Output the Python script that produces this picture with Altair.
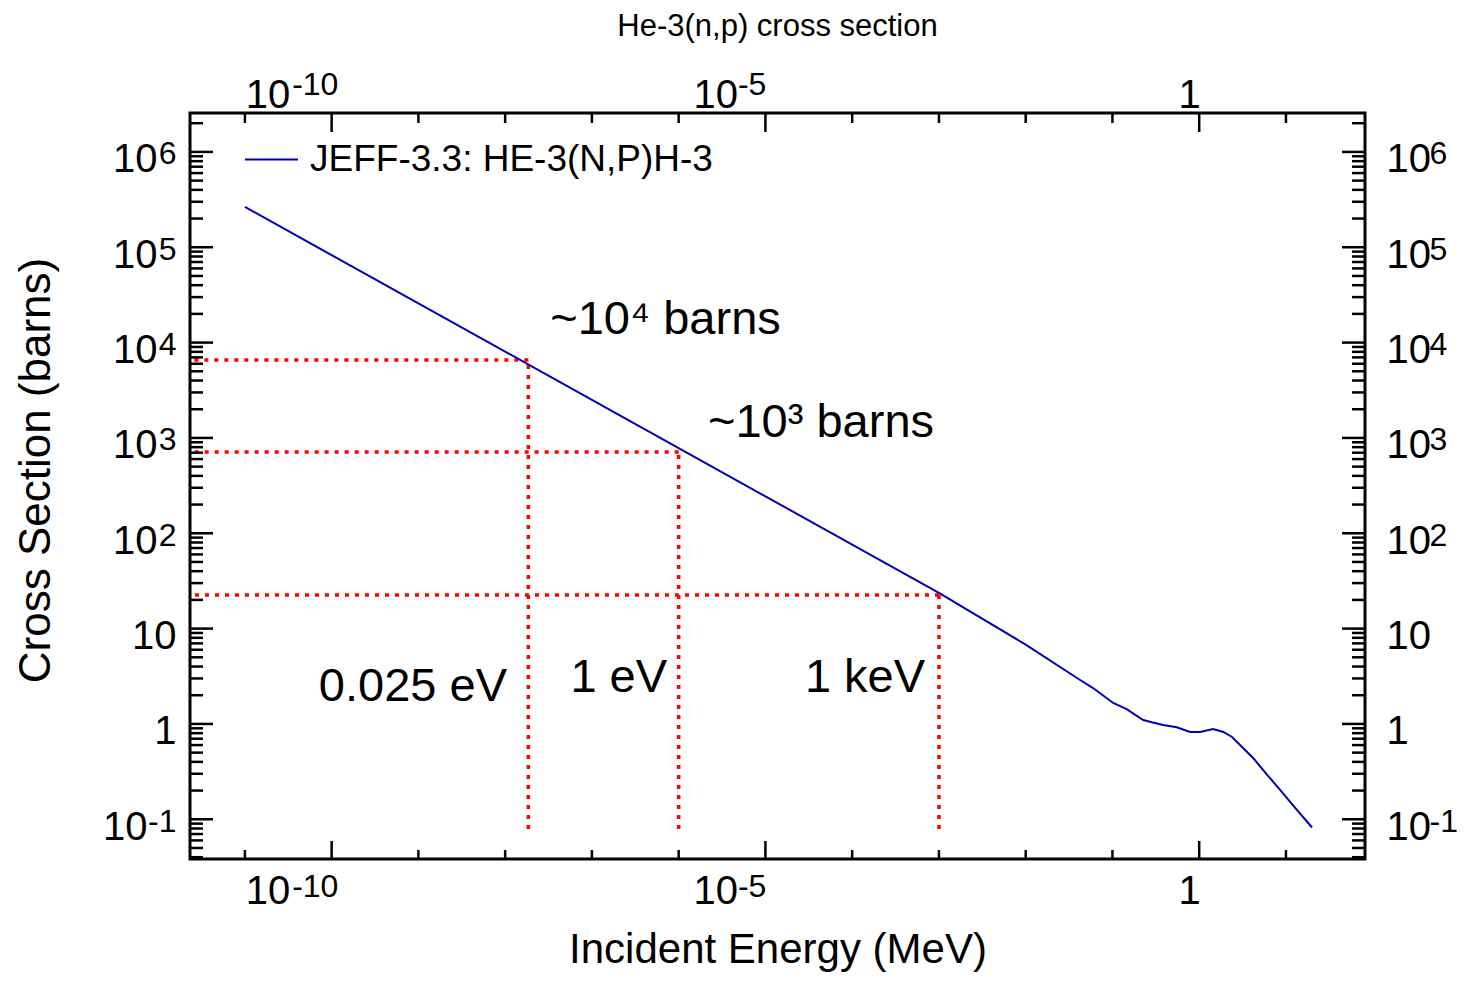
import math
import altair as alt
import pandas as pd

# ---------------- data ----------------
series_name = "JEFF-3.3: HE-3(N,P)H-3"
energy_mev = [1e-11, 1e-10, 1e-9, 1e-8, 1e-7, 1e-6, 1e-5, 1e-4, 1e-3, 1e-2,
              0.0424, 0.0598, 0.102, 0.146, 0.226, 0.284, 0.383, 0.552, 0.785, 1.02,
              1.446, 1.90, 2.39, 4.18, 6.01, 8.56, 12.2, 20.0]
xs_barns = [2.65e5, 8.26e4, 2.58e4, 8.04e3, 2.51e3, 782, 244, 76, 23.7, 6.8,
            2.89, 2.38, 1.66, 1.43, 1.10, 1.04, 0.975, 0.923, 0.823, 0.823,
            0.885, 0.824, 0.73, 0.44, 0.296, 0.203, 0.138, 0.082]

# red dotted guide lines (energy, cross section) and their lower end
mark_energy = [1.85e-8, 1.0e-6, 1.0e-3]
mark_xs = [6577, 713, 22.5]
mark_floor = 0.079

# annotations
ann_text = ["~10\u2074 barns", "~10\u00b3 barns"]
ann_e = [3.31e-8, 2.18e-6]
ann_s = [1.73e4, 1436]
lab_text = ["0.025 eV", "1 eV", "1 keV"]
lab_e = [1.05e-8, 7.36e-7, 6.93e-4]
lab_s = [2.44, 3.03, 3.03]

# axes
x_domain = [2.33e-12, 81.5]
y_domain = [0.0383, 2.56e6]
x_decades = [1e-11, 1e-10, 1e-9, 1e-8, 1e-7, 1e-6, 1e-5, 1e-4, 1e-3, 1e-2, 1e-1, 1, 10]
x_label_values = [1e-10, 1e-5, 1]
x_label_base = ["10", "10", "1"]
x_label_exp = ["-10", "-5", ""]
y_decades = [0.1, 1, 10, 100, 1e3, 1e4, 1e5, 1e6]
y_label_base = ["10", "1", "10", "10", "10", "10", "10", "10"]
y_label_exp = ["-1", "", "", "2", "3", "4", "5", "6"]
y_minor = [m * 10.0 ** n for n in range(-2, 7) for m in range(2, 10)
           if y_domain[0] <= m * 10.0 ** n <= y_domain[1]]
x_short = [v for v in x_decades if v not in x_label_values]

# ---------------- style ----------------
FONT = "Liberation Sans"
BLUE = "#0000b4"
W, H = 1175, 746
BASE_FS, EXP_FS = 40, 32


def label_expr(values, labels):
    s = ""
    for v, lab in zip(values, labels):
        e = round(math.log10(v))
        s += f"round(log(datum.value)/LN10) == {e} ? '{lab}' : "
    return s + "''"


def axis(orient, values, labels, fs, **kw):
    opts = dict(orient=orient, values=values, labelExpr=label_expr(values, labels),
                ticks=False, domain=False, grid=False, labelFont=FONT,
                labelFontSize=fs, labelColor="black", labelOverlap=False,
                labelFlush=False, labelBound=False, title=None)
    opts.update(kw)
    return alt.Axis(**opts)


def pick(values, labels, keep):
    pairs = [(v, l) for v, l, k in zip(values, labels, keep) if k]
    return [p[0] for p in pairs], [p[1] for p in pairs]


# x label groups
xb_v, xb_l = pick(x_label_values, x_label_base, [e != "" for e in x_label_exp])
x1_v, x1_l = pick(x_label_values, x_label_base, [e == "" for e in x_label_exp])
xe_v, xe_l = pick(x_label_values, x_label_exp, [e != "" for e in x_label_exp])
# y label groups
ye_v, ye_l = pick(y_decades, y_label_exp, [e != "" for e in y_label_exp])
ya_v, ya_l = pick(y_decades, y_label_base, [len(e) > 1 for e in y_label_exp])
yb_v, yb_l = pick(y_decades, y_label_base, [len(e) == 1 for e in y_label_exp])
yc_v, yc_l = pick(y_decades, y_label_base, [e == "" for e in y_label_exp])

x_base_off = {"condition": {"test": "datum.value < 1e-7", "value": -42}, "value": -28}
x_exp_off = {"condition": {"test": "datum.value < 1e-7", "value": -40}, "value": -28}

xs = alt.Scale(type="log", domain=x_domain, nice=False)
ys = alt.Scale(type="log", domain=y_domain, nice=False)

df_line = pd.DataFrame({"E": energy_mev, "S": xs_barns, "series": series_name})

line = alt.Chart(df_line).mark_line(strokeWidth=2).encode(
    x=alt.X("E:Q", scale=xs, axis=axis(
        "bottom", xb_v, xb_l, BASE_FS, labelPadding=12, labelAlign="right",
        labelBaseline="top", labelOffset=x_base_off,
        title="Incident Energy (MeV)", titleFont=FONT, titleFontSize=42,
        titleFontWeight="normal", titleColor="black", titlePadding=18)),
    y=alt.Y("S:Q", scale=ys, axis=axis(
        "left", yc_v, yc_l, BASE_FS, labelPadding=14, labelAlign="right",
        labelBaseline="middle", labelOffset=8,
        title="Cross Section (barns)", titleFont=FONT, titleFontSize=44,
        titleFontWeight="normal", titleColor="black", titlePadding=73, titleY=357)),
    color=alt.Color("series:N", scale=alt.Scale(range=[BLUE]), legend=alt.Legend(
        orient="none", legendX=54, legendY=19, title=None, symbolType="stroke",
        symbolSize=2809, symbolStrokeWidth=2, labelFont=FONT, labelFontSize=37,
        labelColor="black", labelOffset=11, padding=0, labelLimit=1000)),
    order=alt.Order("E:Q"),
)

df_xl = pd.DataFrame({"E": x_label_values})
df_xs = pd.DataFrame({"E": x_short})
df_yd = pd.DataFrame({"S": y_decades})
df_ym = pd.DataFrame({"S": y_minor})

tick_style = dict(color="black", strokeWidth=2.5)

bottom_long = alt.Chart(df_xl).mark_rule(**tick_style).encode(
    x=alt.X("E:Q", scale=xs, axis=axis(
        "bottom", xe_v, xe_l, EXP_FS, labelPadding=12, labelAlign="left",
        labelBaseline="top", labelOffset=x_exp_off)),
    y=alt.value(H), y2=alt.value(H - 18))
bottom_short = alt.Chart(df_xs).mark_rule(**tick_style).encode(
    x=alt.X("E:Q", scale=xs, axis=axis(
        "bottom", x1_v, x1_l, BASE_FS, labelPadding=12, labelAlign="right",
        labelBaseline="top", labelOffset=1)),
    y=alt.value(H), y2=alt.value(H - 9))
top_long = alt.Chart(df_xl).mark_rule(**tick_style).encode(
    x=alt.X("E:Q", scale=xs, axis=axis(
        "top", xb_v, xb_l, BASE_FS, labelPadding=-2, labelAlign="right",
        labelBaseline="bottom", labelOffset=x_base_off)),
    y=alt.value(0), y2=alt.value(19))
top_short = alt.Chart(df_xs).mark_rule(**tick_style).encode(
    x=alt.X("E:Q", scale=xs, axis=axis(
        "top", xe_v, xe_l, EXP_FS, labelPadding=12, labelAlign="left",
        labelBaseline="bottom", labelOffset=x_exp_off)),
    y=alt.value(0), y2=alt.value(10))
left_major = alt.Chart(df_yd).mark_rule(**tick_style).encode(
    y=alt.Y("S:Q", scale=ys, axis=axis(
        "left", ye_v, ye_l, EXP_FS, labelPadding=14, labelAlign="right",
        labelBaseline="alphabetic", labelOffset=12)),
    x=alt.value(0), x2=alt.value(23))
left_minor = alt.Chart(df_ym).mark_rule(**tick_style).encode(
    y=alt.Y("S:Q", scale=ys, axis=axis(
        "left", ya_v, ya_l, BASE_FS, labelPadding=43, labelAlign="right",
        labelBaseline="middle", labelOffset=8)),
    x=alt.value(0), x2=alt.value(13))
right_major = alt.Chart(df_yd).mark_rule(**tick_style).encode(
    y=alt.Y("S:Q", scale=ys, axis=axis(
        "right", y_decades, y_label_base, BASE_FS, labelPadding=21, labelAlign="left",
        labelBaseline="middle", labelOffset=8)),
    x=alt.value(W), x2=alt.value(W - 23))
right_minor = alt.Chart(df_ym).mark_rule(**tick_style).encode(
    y=alt.Y("S:Q", scale=ys, axis=axis(
        "right", ye_v, ye_l, EXP_FS, labelPadding=64, labelAlign="left",
        labelBaseline="alphabetic", labelOffset=12)),
    x=alt.value(W), x2=alt.value(W - 13))

df_marks = pd.DataFrame({"E": mark_energy, "S": mark_xs, "floor": mark_floor})
dot_style = dict(color="#ff0000", strokeWidth=3.5, strokeDash=[4, 6])
vert = alt.Chart(df_marks).mark_rule(**dot_style).encode(
    x=alt.X("E:Q", scale=xs, axis=None),
    y=alt.Y("floor:Q", scale=ys, axis=axis(
        "left", yb_v, yb_l, BASE_FS, labelPadding=33, labelAlign="right",
        labelBaseline="middle", labelOffset=8)),
    y2="S:Q")
horiz = alt.Chart(df_marks).mark_rule(**dot_style).encode(
    x=alt.X("E:Q", scale=xs, axis=axis(
        "top", x1_v, x1_l, BASE_FS, labelPadding=-2, labelAlign="right",
        labelBaseline="bottom", labelOffset=1)),
    x2=alt.value(0),
    y=alt.Y("S:Q", scale=ys, axis=None))

df_ann = pd.DataFrame({"E": ann_e, "S": ann_s, "t": ann_text})
ann = alt.Chart(df_ann).mark_text(font=FONT, fontSize=47, align="left",
                                  baseline="middle", color="black").encode(
    x=alt.X("E:Q", scale=xs, axis=None), y=alt.Y("S:Q", scale=ys, axis=None), text="t:N")
df_lab = pd.DataFrame({"E": lab_e, "S": lab_s, "t": lab_text})
labs = alt.Chart(df_lab).mark_text(font=FONT, fontSize=47, align="right",
                                   baseline="middle", color="black").encode(
    x=alt.X("E:Q", scale=xs, axis=None), y=alt.Y("S:Q", scale=ys, axis=None), text="t:N")

chart = alt.layer(
    vert, horiz, line,
    bottom_long, bottom_short, top_long, top_short,
    left_major, left_minor, right_major, right_minor,
    ann, labs,
).resolve_axis(x="independent", y="independent").properties(
    width=W, height=H,
    title=alt.TitleParams(text="He-3(n,p) cross section", font=FONT, fontSize=31,
                          fontWeight="normal", color="black", anchor="middle", offset=25),
    autosize=alt.AutoSizeParams(type="none"),
    padding={"left": 182, "top": 105, "right": 93, "bottom": 114},
    background="white",
).configure_view(stroke="black", strokeWidth=3)

chart.save("out.html", embed_options={"renderer": "svg", "actions": False})
